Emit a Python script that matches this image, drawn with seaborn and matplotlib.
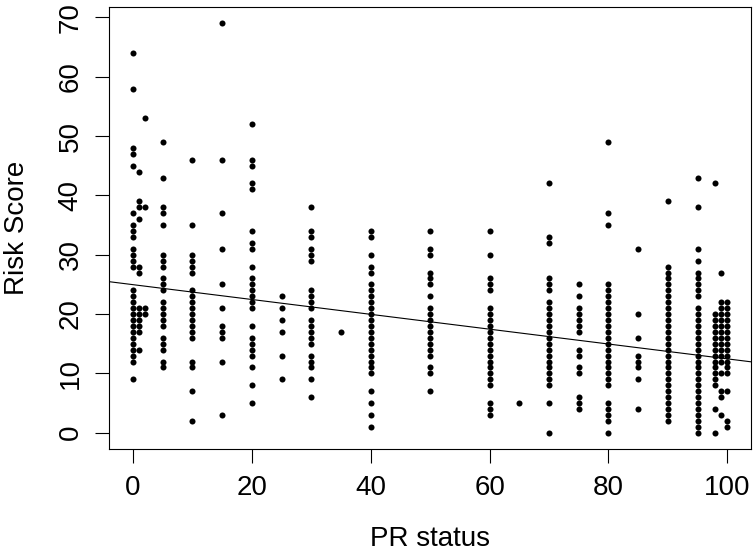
import numpy as np
import pandas as pd
import matplotlib
matplotlib.use("Agg")
import matplotlib.pyplot as plt
import seaborn as sns

# Risk scores, one list per PR status level
score_pr0 = [64, 58, 48, 47, 45, 37, 35, 34, 33, 31, 30, 29, 28,
             24, 23, 22, 21, 20, 19, 18, 17, 16, 15, 14, 13, 12, 9]
score_pr1 = [44, 39, 38, 36, 28, 27, 21, 20, 19, 18, 17, 14]
score_pr2 = [53, 38, 21, 20]
score_pr5 = [49, 43, 38, 37, 35, 30, 29, 28, 26, 25, 24, 22, 21, 20, 19, 18,
             16, 15, 14, 12, 11]
score_pr10 = [46, 35, 30, 29, 28, 27, 24, 23, 22, 21, 20, 19, 18, 17, 16,
              12, 11, 7, 2]
score_pr15 = [69, 46, 37, 31, 25, 21, 18, 17, 16, 12, 3]
score_pr20 = [52, 46, 45, 42, 41, 34, 32, 31, 28, 26, 25, 24, 23, 22, 21,
              18, 16, 15, 14, 13, 11, 8, 5]
score_pr25 = [23, 21, 19, 17, 13, 9]
score_pr30 = [38, 34, 33, 31, 30, 29, 24, 23, 22, 21, 19, 18, 17, 16, 15,
              13, 12, 11, 9, 6]
score_pr35 = [17]
score_pr40 = [34, 33, 30, 28, 27, 25, 24, 23, 22, 21, 20, 19, 18, 17, 16,
              15, 14, 13, 12, 11, 10, 7, 5, 3, 1]
score_pr50 = [34, 31, 30, 27, 26, 25, 23, 21, 20, 19, 18, 17, 16, 15, 14,
              13, 11, 10, 7]
score_pr60 = [34, 30, 26, 25, 24, 21, 20, 19, 18, 17, 16, 15, 14, 13, 12,
              11, 10, 9, 8, 5, 4, 3]
score_pr65 = [5]
score_pr70 = [42, 33, 32, 26, 25, 24, 22, 21, 20, 19, 18, 17, 16, 15, 14,
              13, 12, 11, 10, 9, 8, 5, 0]
score_pr75 = [25, 23, 21, 20, 19, 18, 17, 14, 13, 11, 10, 6, 5, 4]
score_pr80 = [49, 37, 35, 25, 24, 23, 22, 21, 20, 19, 18, 17, 16, 15, 14,
              13, 12, 11, 10, 9, 8, 5, 4, 3, 2, 0]
score_pr85 = [31, 20, 16, 13, 12, 11, 9, 4]
score_pr90 = [39, 28, 27, 26, 25, 24, 23, 22, 21, 20, 19, 18, 17, 16, 15,
              14, 13, 12, 11, 10, 9, 8, 7, 6, 5, 4, 3, 2]
score_pr95 = [43, 38, 31, 29, 27, 26, 25, 24, 23, 21, 20, 19, 18, 17, 16,
              15, 14, 13, 12, 11, 10, 9, 8, 7, 6, 5, 4, 3, 2, 1, 0]
score_pr98 = [42, 20, 19, 18, 17, 16, 15, 14, 13, 12, 11, 10, 9, 8, 4, 0]
score_pr99 = [27, 22, 21, 20, 19, 18, 17, 16, 15, 14, 13, 12, 10, 7, 6, 3]
score_pr100 = [22, 21, 20, 19, 18, 17, 16, 15, 14, 13, 12, 11, 10, 7, 2, 1]

pr_levels = [0, 1, 2, 5, 10, 15, 20, 25, 30, 35, 40, 50, 60, 65, 70, 75,
             80, 85, 90, 95, 98, 99, 100]
score_lists = [score_pr0, score_pr1, score_pr2, score_pr5, score_pr10,
               score_pr15, score_pr20, score_pr25, score_pr30, score_pr35,
               score_pr40, score_pr50, score_pr60, score_pr65, score_pr70,
               score_pr75, score_pr80, score_pr85, score_pr90, score_pr95,
               score_pr98, score_pr99, score_pr100]

# Fitted line as drawn in the picture
fit_intercept = 24.95
fit_slope = -0.125

x_ticks = [0, 20, 40, 60, 80, 100]
y_ticks = [0, 10, 20, 30, 40, 50, 60, 70]

df = pd.DataFrame({
    "pr": np.concatenate([[lv] * len(s) for lv, s in zip(pr_levels, score_lists)]),
    "score": np.concatenate(score_lists),
})

sns.set_style("white")
plt.rcParams["font.family"] = ["Liberation Sans", "DejaVu Sans"]

fig = plt.figure(figsize=(7.55, 5.54), dpi=100)
ax = fig.add_axes([109.3 / 755, 1 - 449.1 / 554, (751 - 109.3) / 755, (449.1 - 6.9) / 554])

sns.scatterplot(data=df, x="pr", y="score", ax=ax, color="black", s=19,
                linewidth=0, legend=False)
ax.axline((0, fit_intercept), slope=fit_slope, color="black", lw=0.8)

ax.set_xlim(-4, 104)
ax.set_ylim(-2.76, 71.76)
ax.set_xticks(x_ticks)
ax.set_yticks(y_ticks)
ax.set_xticklabels([str(t) for t in x_ticks])
ax.set_yticklabels([str(t) for t in y_ticks], rotation=90, va="center")

for sp in ax.spines.values():
    sp.set_visible(True)
    sp.set_color("black")
    sp.set_linewidth(0.8)

ax.tick_params(axis="both", direction="out", length=10, width=0.8,
               color="black", labelsize=20, labelcolor="black")
ax.tick_params(axis="x", pad=9, bottom=True)
ax.tick_params(axis="y", pad=8.4, left=True)

ax.set_xlabel("PR status", fontsize=20, color="black")
ax.set_ylabel("Risk Score", fontsize=20, color="black")
ax.xaxis.set_label_coords(0.5, -0.174)
ax.yaxis.set_label_coords(-0.1236, 0.5)

fig.savefig("out.png", dpi=100)
